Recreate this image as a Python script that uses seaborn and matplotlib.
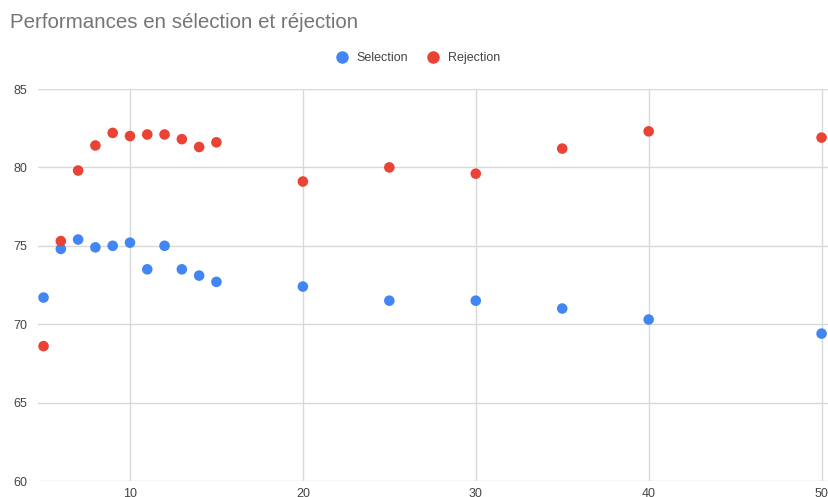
import matplotlib
matplotlib.use("Agg")
import matplotlib.pyplot as plt
import seaborn as sns
import pandas as pd

x_values = [5, 6, 7, 8, 9, 10, 11, 12, 13, 14, 15, 20, 25, 30, 35, 40, 50]
selection = [71.7, 74.8, 75.4, 74.9, 75.0, 75.2, 73.5, 75.0, 73.5, 73.1, 72.7,
             72.4, 71.5, 71.5, 71.0, 70.3, 69.4]
rejection = [68.6, 75.3, 79.8, 81.4, 82.2, 82.0, 82.1, 82.1, 81.8, 81.3, 81.6,
             79.1, 80.0, 79.6, 81.2, 82.3, 81.9]
series_names = ["Selection", "Rejection"]
x_ticks = [10, 20, 30, 40, 50]
y_ticks = [60, 65, 70, 75, 80, 85]
title = "Performances en sélection et réjection"

df = pd.concat([
    pd.DataFrame({"x": x_values, "y": selection, "serie": series_names[0]}),
    pd.DataFrame({"x": x_values, "y": rejection, "serie": series_names[1]}),
])

sns.set_theme(style="white")
plt.rcParams["font.family"] = ["Liberation Sans", "DejaVu Sans"]

W, H = 829, 497
fig = plt.figure(figsize=(W / 100, H / 100), dpi=100)
left, right, top, bottom = 38, 829, 89, 481
ax = fig.add_axes([left / W, (H - bottom) / H, (right - left) / W, (bottom - top) / H])

palette = {"Selection": "#4285F4", "Rejection": "#EA4335"}
sns.scatterplot(data=df, x="x", y="y", hue="serie", palette=palette, s=58,
                edgecolor="none", ax=ax, legend=False, zorder=3, clip_on=False)

ax.set_xlim(4.68, 50.43)
ax.set_ylim(60, 85)
ax.set_xticks(x_ticks)
ax.set_yticks(y_ticks)
ax.grid(True, color="#d9d9d9", linewidth=1.0)
ax.set_axisbelow(True)
for sp in ax.spines.values():
    sp.set_visible(False)
ax.set_xlabel("")
ax.set_ylabel("")
ax.tick_params(axis="both", length=0, labelsize=9, labelcolor="#444444")
ax.tick_params(axis="y", pad=8)
ax.tick_params(axis="x", pad=5)

fig.text(10 / W, 1 - 22 / H, title, fontsize=14.8, color="#757575",
         ha="left", va="center")

handles = [plt.Line2D([], [], marker="o", linestyle="", markersize=9,
                      markerfacecolor=palette[n], markeredgecolor="none")
           for n in series_names]
fig.legend(handles, series_names, loc="center", bbox_to_anchor=(415 / W, 1 - 58 / H),
           ncol=2, frameon=False, fontsize=9, handletextpad=0.2, columnspacing=1.0,
           labelcolor="#444444")

fig.savefig("out.png", dpi=100)
